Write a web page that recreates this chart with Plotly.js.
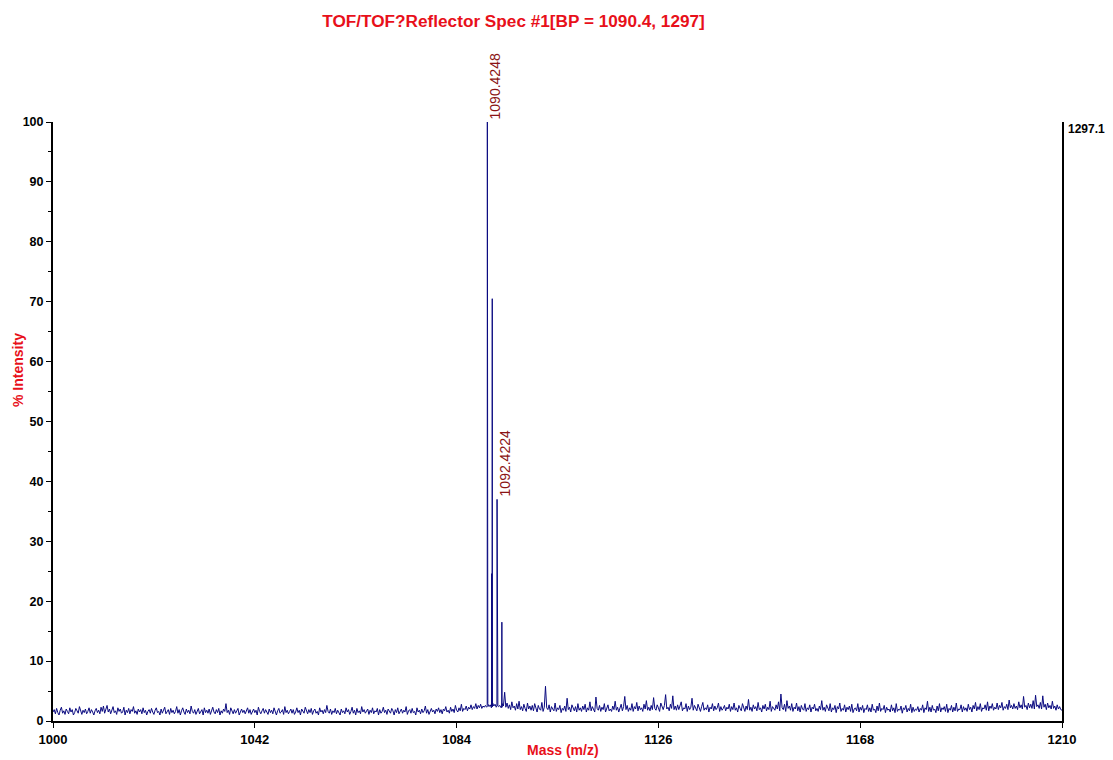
<!DOCTYPE html>
<html>
<head>
<meta charset="utf-8">
<script src="https://cdn.plot.ly/plotly-3.0.1.min.js"></script>
<style>html,body{margin:0;padding:0;background:#fff;}#chart{width:1113px;height:760px;}</style>
</head>
<body>
<div id="chart"></div>
<script>
// Baseline noise, sampled every 0.25 Da from 1000 to 1210 (% intensity), one row per 10 Da
const noiseStart = 1000;
const noiseStep = 0.25;
const noiseIntensity = [
1.5,1.9,1.2,2.1,1.4,1.0,1.8,2.3,1.3,1.7,1.1,2.0,1.6,1.2,2.2,1.5,1.9,1.0,1.4,2.1,1.7,1.3,2.4,1.6,1.1,1.8,1.4,2.0,1.2,1.6,2.2,1.3,1.9,1.5,1.0,1.7,2.1,1.4,1.8,1.2,
2.3,1.6,2.5,1.3,1.9,2.6,1.5,2.0,1.2,1.8,2.4,1.4,1.7,1.1,2.2,1.6,2.0,1.3,1.5,2.3,1.0,1.8,1.4,2.1,1.2,1.9,1.6,2.4,1.3,1.7,1.1,2.0,1.5,1.9,1.2,2.2,1.4,1.8,1.0,1.6,
1.9,1.3,2.1,1.5,1.1,1.8,2.2,1.4,1.6,1.0,2.0,1.3,1.7,2.3,1.2,1.5,1.9,1.1,2.1,1.4,1.8,1.2,1.6,2.4,1.3,1.9,1.0,1.7,2.2,1.5,1.1,2.0,1.4,1.8,1.2,2.5,1.6,1.3,1.9,1.1,
1.7,2.1,1.2,1.5,1.9,1.0,2.2,1.4,1.8,1.3,2.0,1.1,1.6,2.3,1.5,1.2,1.9,1.4,2.1,1.0,1.7,1.3,2.0,1.6,2.9,1.4,1.8,1.1,2.2,1.5,1.2,1.9,1.3,1.7,2.1,1.0,1.6,2.0,1.4,1.8,
1.2,1.6,2.2,1.3,1.9,1.1,1.5,2.0,1.4,1.8,1.0,2.3,1.6,1.2,1.7,2.1,1.3,1.9,1.5,1.1,2.0,1.4,1.8,1.2,2.2,1.6,1.0,1.7,2.1,1.3,1.5,1.9,1.1,2.4,1.4,1.8,1.2,1.6,2.0,1.3,
1.9,1.1,1.5,2.2,1.4,1.8,1.0,2.0,1.6,1.3,2.3,1.5,1.2,1.9,1.4,2.1,1.1,1.7,2.0,1.3,1.6,1.0,2.2,1.5,1.8,1.2,1.9,1.4,2.6,1.6,1.3,2.0,1.1,1.7,1.4,2.1,1.2,1.8,1.5,1.0,
2.0,1.4,1.7,1.2,2.2,1.5,1.9,1.1,1.6,2.3,1.3,1.8,1.0,2.1,1.4,1.7,1.2,2.4,1.5,1.9,1.3,1.6,2.0,1.1,1.8,1.4,2.2,1.2,1.7,1.5,2.1,1.0,1.9,1.3,1.6,2.3,1.4,1.8,1.1,2.0,
1.5,1.3,2.1,1.7,1.0,1.9,1.4,2.2,1.2,1.6,2.0,1.3,1.8,1.5,2.4,1.1,1.7,1.9,1.3,2.1,1.4,1.6,1.0,2.2,1.5,1.8,1.2,2.0,1.4,1.7,2.5,1.3,1.9,1.1,1.6,2.1,1.5,1.8,1.2,2.0,
1.6,2.2,1.4,1.9,1.2,2.0,1.7,2.4,1.5,1.8,1.3,2.3,1.6,2.0,1.4,2.6,1.8,1.5,2.2,1.7,2.8,1.6,2.1,1.9,2.5,1.7,2.3,2.0,2.7,1.9,2.4,2.1,2.9,2.0,2.6,2.2,2.8,2.1,2.5,2.3,
2.6,2.3,2.9,2.4,2.7,2.2,3.0,2.5,2.8,2.3,3.1,2.4,2.6,2.2,2.9,2.5,4.8,2.3,3.0,2.1,2.7,1.9,3.2,2.2,2.5,1.8,2.9,2.0,3.3,1.9,2.4,1.7,2.8,2.1,1.6,3.0,2.0,2.5,1.8,2.6,
1.7,2.9,2.1,1.5,2.6,2.0,1.8,3.1,1.6,2.3,5.8,2.2,1.9,2.7,1.5,2.4,2.0,1.7,3.0,1.6,2.2,1.9,2.6,1.4,2.1,1.8,2.5,1.6,3.8,1.9,2.3,1.5,2.7,2.0,1.7,2.4,1.5,2.9,1.8,2.2,
1.6,2.5,1.9,2.8,1.5,2.2,1.8,3.2,1.7,2.4,2.0,1.5,4.0,2.1,1.8,2.6,1.6,2.3,1.9,2.9,1.5,2.2,2.7,1.7,2.0,1.6,2.5,1.9,3.3,1.8,2.3,1.5,2.1,2.8,1.7,2.4,4.1,1.9,2.6,1.6,
2.2,1.8,2.9,1.6,2.4,2.0,3.1,1.7,2.5,1.9,2.2,1.6,2.8,2.0,3.4,1.8,2.3,1.7,2.6,1.9,3.9,2.1,1.8,2.7,2.2,1.6,3.0,2.4,1.9,2.6,4.4,2.0,2.3,1.7,2.8,2.1,4.2,1.9,2.5,1.8,
2.7,1.9,2.4,3.2,1.7,2.2,2.0,2.9,1.6,2.5,1.9,2.3,3.8,1.8,2.6,2.1,1.7,2.8,2.0,1.6,2.4,3.1,1.8,2.2,1.9,2.7,1.5,2.3,2.0,2.9,1.7,2.5,1.9,2.2,3.0,1.6,2.4,1.8,2.1,2.6,
1.7,2.3,2.0,2.8,1.6,2.4,1.9,3.0,1.8,2.2,1.5,2.6,2.1,1.7,2.9,2.0,1.6,2.5,1.9,3.6,1.8,2.3,1.6,2.7,2.0,2.4,1.7,3.1,1.9,2.2,1.5,2.6,2.0,2.8,1.7,2.3,1.9,3.3,1.6,2.4,
2.1,1.8,2.7,2.0,3.2,1.7,4.5,2.2,1.9,2.8,1.6,3.4,2.1,2.5,1.8,2.9,1.6,2.3,2.0,3.0,1.7,2.4,1.5,2.6,2.0,1.8,2.9,1.6,2.2,1.9,2.7,1.5,2.3,2.0,2.8,1.7,2.1,1.6,2.5,1.9,
3.4,1.8,2.3,1.6,2.7,2.0,1.7,2.9,1.5,2.2,1.9,2.6,1.4,2.4,2.0,3.0,1.6,2.1,1.8,2.7,1.5,2.3,1.9,2.5,1.6,2.8,1.4,2.0,2.2,1.7,2.9,1.5,2.3,1.8,2.6,1.4,2.1,1.9,2.7,1.6,
2.2,1.5,2.8,1.8,2.0,1.4,2.5,1.7,3.0,1.6,2.1,1.9,2.6,1.4,2.3,1.8,2.0,1.5,2.7,1.7,2.2,1.4,2.9,1.6,2.0,1.8,2.5,1.3,2.2,1.9,2.6,1.5,2.1,1.7,2.8,1.4,2.3,1.6,2.0,1.8,
2.4,1.5,2.1,1.8,2.7,1.4,2.2,1.9,3.3,1.6,2.3,1.5,2.6,1.8,2.0,1.4,2.5,1.7,2.9,1.5,2.2,1.9,2.4,1.6,2.8,1.4,2.1,1.8,2.6,1.5,2.3,1.7,3.0,1.6,2.0,1.9,2.7,1.5,2.4,1.8,
2.2,1.6,2.8,1.9,2.3,1.5,2.6,2.0,3.1,1.7,2.4,1.9,2.9,1.6,2.2,2.0,2.7,1.8,3.2,1.7,2.5,2.1,2.9,1.8,2.3,2.0,3.0,1.9,2.6,2.2,3.1,1.8,2.4,2.1,2.8,1.9,3.5,2.2,2.6,2.0,
2.9,2.1,2.5,1.9,3.2,2.2,2.7,2.0,4.1,2.3,2.6,1.9,3.0,2.2,2.8,2.1,3.4,2.0,4.3,2.4,2.7,2.1,3.1,2.0,4.2,2.3,2.8,1.9,3.0,2.2,2.6,2.0,3.3,2.1,2.5,1.8,2.7,2.0,2.4,1.9,
1.8
];

// Isotope cluster peaks (centroid mass, % intensity)
const peakMass = [1090.40, 1090.46, 1091.30, 1091.42, 1092.42, 1092.50, 1092.56, 1093.42];
const peakIntensity = [100, 86, 24.6, 70.5, 37, 32.4, 28, 16.5];
const peakBase = [2.4, 2.4, 2.4, 2.4, 2.5, 2.5, 2.5, 2.3];

// Labelled peaks
const labelMass = [1090.4248, 1092.4224];
const labelIntensity = [100, 37];
const labelText = ["1090.4248", "1092.4224"];

const basePeak = "1297.1";
const xTicks = [1000, 1042, 1084, 1126, 1168, 1210];

// Merge noise and peaks into one profile
let pts = [];
noiseIntensity.forEach((v, i) => pts.push([noiseStart + i * noiseStep, v]));
peakMass.forEach((m, i) => {
  pts.push([m - 0.03, peakBase[i]]);
  pts.push([m, peakIntensity[i]]);
  pts.push([m + 0.03, peakBase[i]]);
});
pts.sort((a, b) => a[0] - b[0]);

const red = '#e8101a';
const trace = {
  type: 'scatter', mode: 'lines',
  x: pts.map(p => p[0]), y: pts.map(p => p[1]),
  line: {color: '#0a0a80', width: 1},
  hoverinfo: 'x+y'
};

const annotations = labelMass.map((m, i) => ({
  x: m, y: labelIntensity[i], xref: 'x', yref: 'y',
  text: labelText[i], showarrow: false, textangle: -90,
  xanchor: 'left', yanchor: 'bottom', xshift: -2, yshift: 1,
  font: {family: 'Liberation Sans, Arial, sans-serif', size: 14, color: '#8b1414'}
}));
annotations.push({
  x: 1, y: 1, xref: 'paper', yref: 'paper', text: '<b>' + basePeak + '</b>',
  showarrow: false, xanchor: 'left', yanchor: 'middle', xshift: 4, yshift: -7,
  font: {family: 'Liberation Sans, Arial, sans-serif', size: 12, color: '#000'}
});
// Axis titles
annotations.push({
  x: 0, y: 0.586, xref: 'paper', yref: 'paper', text: '<b>% Intensity</b>',
  showarrow: false, textangle: -90, xanchor: 'center', yanchor: 'middle', xshift: -35,
  font: {family: 'Liberation Sans, Arial, sans-serif', size: 14, color: red}
});
annotations.push({
  x: 0.5, y: 0, xref: 'paper', yref: 'paper', text: '<b>Mass (m/z)</b>',
  showarrow: false, xanchor: 'center', yanchor: 'middle', xshift: 5, yshift: -29,
  font: {family: 'Liberation Sans, Arial, sans-serif', size: 14, color: red}
});

const layout = {
  width: 1113, height: 760,
  margin: {l: 53, r: 51, t: 122, b: 39},
  paper_bgcolor: '#fff', plot_bgcolor: '#fff',
  showlegend: false,
  font: {family: 'Liberation Sans, Arial, sans-serif', color: '#000'},
  title: {
    text: '<b>TOF/TOF?Reflector Spec #1[BP = 1090.4, 1297]</b>',
    x: 0.4564, xanchor: 'center', y: 0.973, yanchor: 'middle', xref: 'paper',
    font: {family: 'Liberation Sans, Arial, sans-serif', size: 17.2, color: red}
  },
  xaxis: {
    range: [1000, 1210], tickvals: xTicks, ticktext: xTicks.map(String),
    showgrid: false, zeroline: false, showline: true, linecolor: '#000', linewidth: 2,
    ticks: 'outside', ticklen: 5, tickwidth: 1, tickcolor: '#000',
    tickfont: {size: 13, color: '#000', weight: 'bold'},
    automargin: false
  },
  yaxis: {
    range: [0, 100], dtick: 10, tick0: 0,
    showgrid: false, zeroline: false, showline: true, linecolor: '#000', linewidth: 2,
    mirror: true,
    ticks: 'outside', ticklen: 5, tickwidth: 1, tickcolor: '#000',
    minor: {dtick: 5, ticks: 'outside', ticklen: 3, tickcolor: '#000', showgrid: false},
    tickfont: {size: 12.5, color: '#000', weight: 'bold'},
    automargin: false
  },
  annotations: annotations
};

Plotly.newPlot('chart', [trace], layout, {displayModeBar: false, staticPlot: true});
</script>
</body>
</html>
